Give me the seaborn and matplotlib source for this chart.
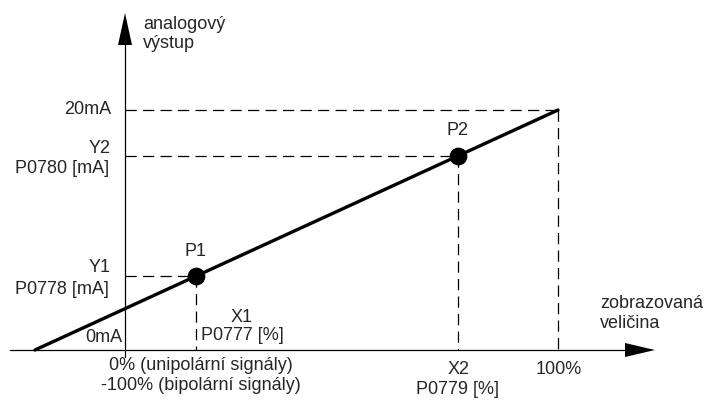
import matplotlib
matplotlib.use("Agg")
import matplotlib.pyplot as plt
import seaborn as sns
import pandas as pd

# Output characteristic (x in %, y in mA)
line_x = [-20.8, 100]
line_y = [0, 20]

# Set points P1 / P2
point_names = ["P1", "P2"]
point_x = [16.4, 76.9]
point_y = [6.2, 16.2]

y_top = 20  # 20mA level
x_top = 100  # 100% level

sns.set_style("white")
plt.rcParams["font.family"] = ["Liberation Sans", "DejaVu Sans"]
plt.rcParams["font.size"] = 13

fig = plt.figure(figsize=(7.06, 4.03), dpi=100)
ax = fig.add_axes([0, 0, 1, 1])

# pixel -> data scale (0% at x=125px, 0mA at y=350px)
sx, sy = 4.33, 12.0


def px(x, y):
    return (x - 125) / sx, (350 - y) / sy


x0, y0 = px(0, 403)
x1, y1 = px(706, 0)
ax.set_xlim(x0, x1)
ax.set_ylim(y0, y1)
ax.axis("off")

# Axes with arrow heads
ax.plot(*zip(px(125, 357), px(125, 40)), color="black", lw=0.9)
ax.fill(*zip(px(125, 13), px(118, 45), px(132, 45)), color="black", lw=0)
ax.plot(*zip(px(10, 350), px(628, 350)), color="black", lw=0.9)
ax.fill(*zip(px(655, 350), px(625, 343), px(625, 357)), color="black", lw=0)

# Dashed helper lines
dash = dict(color="black", lw=0.9, linestyle=(0, (9, 5)))
ax.plot([0, x_top], [y_top, y_top], **dash)
ax.plot([x_top, x_top], [y_top, 0], **dash)
for xp, yp in zip(point_x, point_y):
    ax.plot([0, xp], [yp, yp], **dash)
    ax.plot([xp, xp], [yp, 0], **dash)

# Characteristic line and points
df_line = pd.DataFrame({"x": line_x, "y": line_y})
sns.lineplot(data=df_line, x="x", y="y", color="black", lw=2.4, ax=ax)
df_pts = pd.DataFrame({"x": point_x, "y": point_y, "name": point_names})
sns.scatterplot(data=df_pts, x="x", y="y", color="black", s=140,
                edgecolor="black", zorder=5, ax=ax)
ax.set_xlim(x0, x1)
ax.set_ylim(y0, y1)
ax.axis("off")

# Labels
ax.text(*px(143, 24), "analogový", ha="left", va="center")
ax.text(*px(143, 43), "výstup", ha="left", va="center")
ax.text(*px(111, 110), "20mA", ha="right", va="center")
ax.text(*px(111, 148), "Y2", ha="right", va="center")
ax.text(*px(109, 168), "P0780 [mA]", ha="right", va="center")
ax.text(*px(111, 267), "Y1", ha="right", va="center")
ax.text(*px(109, 289), "P0778 [mA]", ha="right", va="center")
ax.text(*px(122, 337), "0mA", ha="right", va="center")
ax.text(*px(195, 251), point_names[0], ha="center", va="center")
ax.text(*px(457, 130), point_names[1], ha="center", va="center")
ax.text(*px(242, 317), "X1", ha="center", va="center")
ax.text(*px(242, 336), "P0777 [%]", ha="center", va="center")
ax.text(*px(201, 365), "0% (unipolární signály)", ha="center", va="center")
ax.text(*px(201, 386), "-100% (bipolární signály)", ha="center", va="center")
ax.text(*px(459, 370), "X2", ha="center", va="center")
ax.text(*px(457, 389), "P0779 [%]", ha="center", va="center")
ax.text(*px(559, 370), "100%", ha="center", va="center")
ax.text(*px(600, 304), "zobrazovaná", ha="left", va="center")
ax.text(*px(600, 324), "veličina", ha="left", va="center")

fig.savefig("out.png", dpi=100)
